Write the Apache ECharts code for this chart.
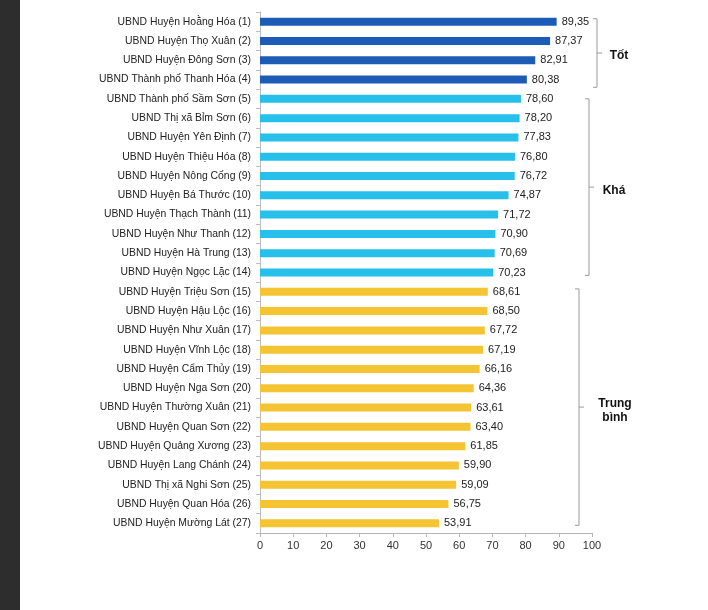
<!DOCTYPE html>
<html>
<head>
<meta charset="utf-8">
<script src="https://cdn.jsdelivr.net/npm/echarts@6/dist/echarts.min.js"></script>
<style>
html,body{margin:0;padding:0;background:#fff;}
#wrap{position:relative;width:708px;height:610px;overflow:hidden;}
#strip{position:absolute;left:0;top:0;width:20px;height:610px;background:#2d2d2d;}
#chart{position:absolute;left:0;top:0;width:708px;height:610px;}
</style>
</head>
<body>
<div id="wrap"><div id="chart"></div><div id="strip"></div></div>
<script>
const categories = [
  'UBND Huyện Hoằng Hóa (1)',
  'UBND Huyện Thọ Xuân (2)',
  'UBND Huyện Đông Sơn (3)',
  'UBND Thành phố Thanh Hóa (4)',
  'UBND Thành phố Sầm Sơn (5)',
  'UBND Thị xã Bỉm Sơn (6)',
  'UBND Huyện Yên Định (7)',
  'UBND Huyện Thiệu Hóa (8)',
  'UBND Huyện Nông Cống (9)',
  'UBND Huyện Bá Thước (10)',
  'UBND Huyện Thạch Thành (11)',
  'UBND Huyện Như Thanh (12)',
  'UBND Huyện Hà Trung (13)',
  'UBND Huyện Ngọc Lặc (14)',
  'UBND Huyện Triệu Sơn (15)',
  'UBND Huyện Hậu Lộc (16)',
  'UBND Huyện Như Xuân (17)',
  'UBND Huyện Vĩnh Lộc (18)',
  'UBND Huyện Cẩm Thủy (19)',
  'UBND Huyện Nga Sơn (20)',
  'UBND Huyện Thường Xuân (21)',
  'UBND Huyện Quan Sơn (22)',
  'UBND Huyện Quảng Xương (23)',
  'UBND Huyện Lang Chánh (24)',
  'UBND Thị xã Nghi Sơn (25)',
  'UBND Huyện Quan Hóa (26)',
  'UBND Huyện Mường Lát (27)'
];
const values = [89.35, 87.37, 82.91, 80.38, 78.60, 78.20, 77.83, 76.80, 76.72, 74.87,
  71.72, 70.90, 70.69, 70.23, 68.61, 68.50, 67.72, 67.19, 66.16, 64.36,
  63.61, 63.40, 61.85, 59.90, 59.09, 56.75, 53.91];
const groupLabels = ['Tốt', 'Khá', 'Trung\nbình'];
const groupStart = [0, 4, 14];
const groupEnd = [3, 13, 26];
const xTicks = [0, 10, 20, 30, 40, 50, 60, 70, 80, 90, 100];

// styles
const groupColors = ['#1c5cb6', '#27c0ea', '#f4c432'];
const bracketX = [597, 589, 579];
const bracketPadTop = [0.15, 0.0, 0.15];
const bracketPadBot = [0.4, 0.15, 0.1];
const bracketLabelX = [619, 614, 615];
const bracketLabelDy = [3, 4, 4];

function groupOf(i) {
  for (let g = 0; g < groupStart.length; g++) if (i >= groupStart[g] && i <= groupEnd[g]) return g;
  return 0;
}

const chart = echarts.init(document.getElementById('chart'), null, {renderer: 'canvas'});
const font = 'Liberation Sans, Arial, sans-serif';
chart.setOption({
  animation: false,
  grid: {left: 260, right: 116, top: 12, bottom: 77, containLabel: false},
  xAxis: {
    type: 'value', min: xTicks[0], max: xTicks[xTicks.length - 1], interval: 10,
    axisLine: {show: true, lineStyle: {color: '#b5b5b5'}},
    axisTick: {show: true, length: 4, lineStyle: {color: '#b5b5b5'}},
    axisLabel: {color: '#333', fontSize: 11, fontFamily: font, margin: 7},
    splitLine: {show: false}
  },
  yAxis: {
    type: 'category', data: categories, inverse: true,
    axisLine: {show: true, lineStyle: {color: '#bdbdbd'}},
    axisTick: {show: true, length: 4, lineStyle: {color: '#bdbdbd'}},
    axisLabel: {color: '#222', fontSize: 10.4, fontFamily: font, margin: 9}
  },
  series: [{
    type: 'bar',
    barWidth: 8,
    data: values.map((v, i) => ({value: v, itemStyle: {color: groupColors[groupOf(i)]}})),
    label: {
      show: true, position: 'right', distance: 5,
      color: '#222', fontSize: 11, fontFamily: font,
      formatter: p => p.value.toFixed(2).replace('.', ',')
    }
  }]
});

const band = chart.convertToPixel({yAxisIndex: 0}, categories[1]) - chart.convertToPixel({yAxisIndex: 0}, categories[0]);
const graphics = [];
for (let g = 0; g < groupLabels.length; g++) {
  const yTop = chart.convertToPixel({yAxisIndex: 0}, categories[groupStart[g]]) - band * bracketPadTop[g];
  const yBot = chart.convertToPixel({yAxisIndex: 0}, categories[groupEnd[g]]) + band * bracketPadBot[g];
  const x = bracketX[g];
  const mid = (yTop + yBot) / 2;
  graphics.push({
    type: 'polyline', silent: true,
    shape: {points: [[x - 4, yTop], [x, yTop], [x, yBot], [x - 4, yBot]]},
    style: {stroke: '#9a9a9a', lineWidth: 1, fill: null}
  });
  graphics.push({
    type: 'line', silent: true,
    shape: {x1: x, y1: mid, x2: x + 5, y2: mid},
    style: {stroke: '#9a9a9a', lineWidth: 1}
  });
  graphics.push({
    type: 'text', silent: true,
    x: bracketLabelX[g], y: mid + bracketLabelDy[g],
    style: {
      text: groupLabels[g], fill: '#111', font: 'bold 12px ' + font,
      align: 'center', verticalAlign: 'middle', lineHeight: 14
    }
  });
}
chart.setOption({graphic: graphics});
</script>
</body>
</html>
